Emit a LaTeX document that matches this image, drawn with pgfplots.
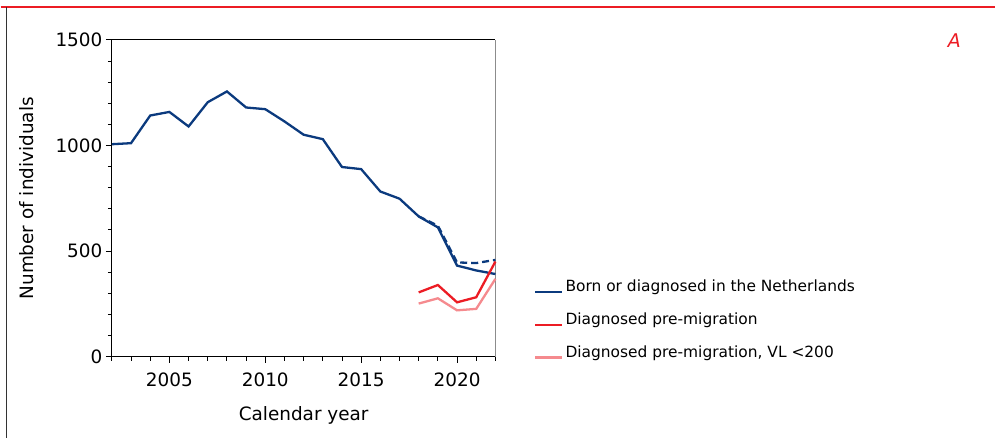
\documentclass[border=0pt]{standalone}
\usepackage{pgfplots}
\pgfplotsset{compat=1.18}
\usepackage{fontspec}
\setmainfont{DejaVu Sans}
\definecolor{navy}{HTML}{0B3A7E}
\definecolor{cred}{HTML}{EC1C24}
\definecolor{cpink}{HTML}{F58A8E}
\begin{document}
\begin{tikzpicture}
\path (0bp,0bp) rectangle (996bp,439bp);
\draw[cred, line width=1.2bp] (0bp,432bp) -- (996bp,432bp);
\draw[black!80, line width=1bp] (6bp,432bp) -- (6bp,0bp);
\begin{axis}[
  at={(111.4bp,82bp)}, anchor=south west,
  scale only axis, width=384bp, height=317bp,
  xmin=2002, xmax=2022, ymin=0, ymax=1500,
  axis x line*=bottom, axis y line*=left,
  axis line style={black, line width=0.9bp},
  xtick={2005,2010,2015,2020},
  minor xtick={2002,...,2022},
  ytick={0,500,1000,1500},
  minor ytick={100,200,300,400,600,700,800,900,1100,1200,1300,1400},
  tick align=outside,
  major tick length=6bp, minor tick length=4bp,
  tick style={black, line width=0.9bp},
  /pgf/number format/assume math mode=true,
  /pgf/number format/set thousands separator={},
  tick label style={font=\fontsize{18.5}{21}\selectfont},
  xticklabel style={yshift=-7bp},
  label style={font=\fontsize{18.5}{21}\selectfont},
  xlabel={Calendar year},
  ylabel={Number of individuals},
  xlabel shift=13bp,
  ylabel shift=15bp,
  clip=false,
  legend style={at={(1.093,0.255)}, anchor=north west, draw=none, fill=none,
    font=\fontsize{15.5}{18}\selectfont, row sep=15.5bp},
  legend cell align=left,
  every odd column/.append style={column sep=6bp},
  legend image code/.code={\draw[#1] (0bp,-5.5bp) -- (27bp,-5.5bp);},
]
\draw[gray!90, line width=0.9bp] (rel axis cs:1,0) -- (rel axis cs:1,1);
\draw[black, line width=0.9bp] (rel axis cs:0,1) -- (rel axis cs:1,1);
\addplot[navy, line width=2.3bp, dash pattern=on 7bp off 4bp, forget plot] coordinates {
(2018,664) (2019,620) (2020,446) (2021,443) (2022,458)};
\addplot[navy, line width=2.3bp] coordinates {
(2002,1006) (2003,1011) (2004,1142) (2005,1159) (2006,1090) (2007,1205)
(2008,1256) (2009,1180) (2010,1172) (2011,1114) (2012,1051) (2013,1030)
(2014,898) (2015,888) (2016,782) (2017,748) (2018,664) (2019,612)
(2020,431) (2021,408) (2022,391)};
\addlegendentry{Born or diagnosed in the Netherlands}
\addplot[cred, line width=2.3bp] coordinates {
(2018,304) (2019,339) (2020,257) (2021,281) (2022,450)};
\addlegendentry{Diagnosed pre-migration}
\addplot[cpink, line width=2.3bp] coordinates {
(2018,251) (2019,276) (2020,219) (2021,226) (2022,368)};
\addlegendentry{Diagnosed pre-migration, VL <200}
\end{axis}
\node[cred, font=\fontsize{19}{22}\selectfont\itshape] at (955bp,398bp) {A};
\end{tikzpicture}
\end{document}
